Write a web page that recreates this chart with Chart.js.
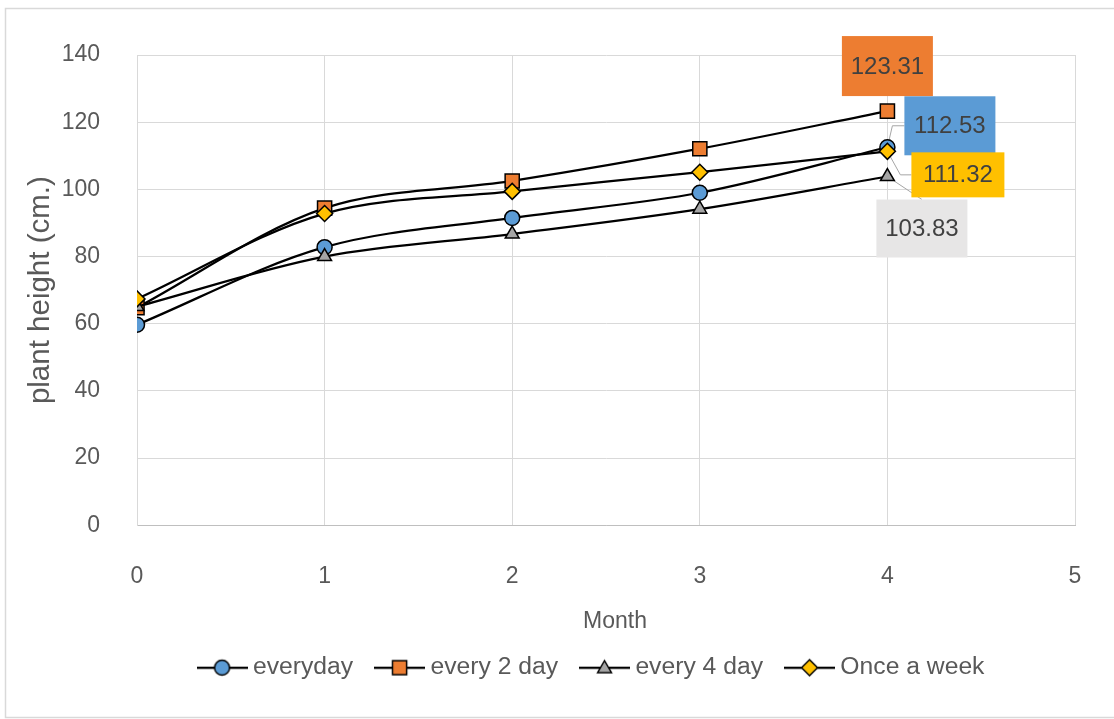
<!DOCTYPE html>
<html>
<head>
<meta charset="utf-8">
<script src="https://cdn.jsdelivr.net/npm/chart.js@4/dist/chart.umd.min.js"></script>
<style>
  html, body { margin: 0; padding: 0; background: #ffffff; }
  #wrap { width: 1114px; height: 719px; }
</style>
</head>
<body>
<div id="wrap"><canvas id="growth" width="1114" height="719"></canvas></div>
<script>
// Plant height (cm.) measured each month for four watering schedules
const months = [0, 1, 2, 3, 4];
const seriesNames = ['everyday', 'every 2 day', 'every 4 day', 'Once a week'];
const everyday   = [59.7, 82.8, 91.5, 99.0, 112.53];
const every2Day  = [64.8, 94.4, 102.5, 112.1, 123.31];
const every4Day  = [65.1, 80.0, 86.7, 94.1, 103.83];
const onceAWeek  = [67.4, 92.8, 99.4, 105.1, 111.32];
const xTickLabels = ['0', '1', '2', '3', '4', '5'];
const yTickLabels = ['0', '20', '40', '60', '80', '100', '120', '140'];

const FONT = '"Liberation Sans", Arial, sans-serif';
const TEXT = '#595959';
const GRID = '#D9D9D9';

const seriesValues = [everyday, every2Day, every4Day, onceAWeek];
const markerStyles = [
  { shape: 'circle',   radius: 7.5, fill: '#5B9BD5' },
  { shape: 'rect',     radius: 10,  fill: '#ED7D31' },
  { shape: 'triangle', radius: 8,   fill: '#A5A5A5' },
  { shape: 'rectRot',  radius: 8,   fill: '#FFC000' }
];

// Value callouts for the last month, placed relative to their point
const callouts = [
  { fill: '#5B9BD5', w: 91, h: 59, dx: 17,    dy: -51, leader: 'side', bend: 5 },
  { fill: '#ED7D31', w: 91, h: 60, dx: -45.5, dy: -75, leader: 'none' },
  { fill: '#E7E6E6', w: 91, h: 58, dx: -11,   dy: 23,  leader: 'top' },
  { fill: '#FFC000', w: 93, h: 45, dx: 24,    dy: 1,   leader: 'side', bend: 13 }
];

function traceMarker(g, shape, r, x, y) {
  g.beginPath();
  if (shape === 'circle') {
    g.arc(x, y, r, 0, Math.PI * 2);
  } else if (shape === 'rect') {
    const s = r * Math.SQRT1_2;
    g.rect(x - s, y - s, 2 * s, 2 * s);
  } else if (shape === 'triangle') {
    g.moveTo(x, y - r);
    g.lineTo(x + r * 0.866, y + r / 2);
    g.lineTo(x - r * 0.866, y + r / 2);
  } else {
    g.moveTo(x, y - r);
    g.lineTo(x + r, y);
    g.lineTo(x, y + r);
    g.lineTo(x - r, y);
  }
  g.closePath();
}

function legendIcon(m) {
  const c = document.createElement('canvas');
  c.width = 51; c.height = 20;
  const g = c.getContext('2d');
  g.strokeStyle = '#000'; g.lineWidth = 2.25;
  g.beginPath(); g.moveTo(0, 10); g.lineTo(51, 10); g.stroke();
  g.lineWidth = 1.5; g.fillStyle = m.fill;
  traceMarker(g, m.shape, m.radius, 25.5, m.shape === 'triangle' ? 11 : 10);
  g.fill(); g.stroke();
  return c;
}
const legendIcons = markerStyles.map(legendIcon);

const chartFrame = {
  id: 'chartFrame',
  beforeDraw(chart) {
    const ctx = chart.ctx;
    ctx.save();
    ctx.fillStyle = '#ffffff';
    ctx.fillRect(0, 0, chart.width, chart.height);
    ctx.strokeStyle = GRID; ctx.lineWidth = 1.5;
    ctx.beginPath();
    ctx.moveTo(chart.width + 2, 8.5);
    ctx.lineTo(5.5, 8.5);
    ctx.lineTo(5.5, 717.5);
    ctx.lineTo(chart.width + 2, 717.5);
    ctx.stroke();
    ctx.restore();

    // the "Month" title sits slightly right of the plot centre
    const xs = chart.scales.x;
    if (xs && !xs._titleShifted) {
      const base = xs.drawTitle;
      xs.drawTitle = function () {
        this.ctx.save();
        this.ctx.translate(9, 0);
        base.call(this);
        this.ctx.restore();
      };
      xs._titleShifted = true;
    }
  }
};

// Centre the legend row (icons included) on x = 590
const legendShift = {
  id: 'legendShift',
  afterLayout(chart) {
    const lg = chart.legend;
    const d = 594 - (lg.left + lg.right) / 2;
    lg.left += d;
    lg.right += d;
  }
};

function calloutBox(chart, i) {
  const pt = chart.getDatasetMeta(i).data[months.length - 1];
  const c = callouts[i];
  return { px: pt.x, py: pt.y, left: pt.x + c.dx, top: pt.y + c.dy, c };
}

const valueCallouts = {
  id: 'valueCallouts',
  beforeDatasetsDraw(chart) {
    const ctx = chart.ctx;
    ctx.save();
    ctx.strokeStyle = '#A6A6A6'; ctx.lineWidth = 1;
    seriesValues.forEach((_, i) => {
      const b = calloutBox(chart, i);
      const cy = b.top + b.c.h / 2;
      ctx.beginPath();
      if (b.c.leader === 'side') {
        ctx.moveTo(b.px, b.py);
        ctx.lineTo(b.px + b.c.bend, cy);
        ctx.lineTo(b.left, cy);
      } else if (b.c.leader === 'top') {
        ctx.moveTo(b.px, b.py);
        ctx.lineTo(b.left + b.c.w / 2, b.top);
      }
      ctx.stroke();
    });
    ctx.restore();
  },
  afterDatasetsDraw(chart) {
    const ctx = chart.ctx;
    ctx.save();
    ctx.font = '24px ' + FONT;
    ctx.textAlign = 'center';
    ctx.textBaseline = 'middle';
    seriesValues.forEach((vals, i) => {
      const b = calloutBox(chart, i);
      ctx.fillStyle = b.c.fill;
      ctx.fillRect(b.left, b.top, b.c.w, b.c.h);
      ctx.fillStyle = '#404040';
      ctx.fillText(vals[vals.length - 1].toFixed(2), b.left + b.c.w / 2, b.top + b.c.h / 2 + 1);
    });
    ctx.restore();
  }
};

const datasets = seriesNames.map((name, i) => ({
  label: name,
  data: months.map((m, k) => ({ x: m, y: seriesValues[i][k] })),
  borderColor: '#000000',
  borderWidth: 2.25,
  tension: 0.33,
  fill: false,
  pointStyle: markerStyles[i].shape,
  pointRadius: markerStyles[i].radius,
  pointHoverRadius: markerStyles[i].radius,
  pointBackgroundColor: markerStyles[i].fill,
  pointBorderColor: '#000000',
  pointBorderWidth: 1.5,
  order: seriesNames.length - i
}));

new Chart(document.getElementById('growth'), {
  type: 'line',
  data: { datasets },
  plugins: [chartFrame, legendShift, valueCallouts],
  options: {
    responsive: false,
    animation: false,
    devicePixelRatio: 1,
    layout: { padding: { left: 0, top: 55, right: 39, bottom: 29 } },
    plugins: {
      tooltip: { enabled: false },
      legend: {
        position: 'bottom',
        labels: {
          usePointStyle: true,
          pointStyleWidth: 37,
          padding: 28,
          color: TEXT,
          font: { family: FONT, size: 24.7 },
          sort: (a, b) => a.datasetIndex - b.datasetIndex,
          generateLabels(chart) {
            const items = Chart.defaults.plugins.legend.labels.generateLabels(chart);
            items.forEach(it => { it.pointStyle = legendIcons[it.datasetIndex]; });
            return items;
          }
        }
      }
    },
    scales: {
      x: {
        type: 'linear',
        min: 0,
        max: xTickLabels.length - 1,
        afterFit(scale) {
          scale.height = 102;
          scale.paddingLeft = 0;
          scale.paddingRight = 0;
        },
        grid: { color: GRID, drawTicks: false },
        border: { color: '#BFBFBF', width: 1 },
        ticks: {
          stepSize: 1,
          padding: 38,
          color: TEXT,
          font: { family: FONT, size: 23 },
          callback: (v) => xTickLabels[v]
        },
        title: {
          display: true,
          text: 'Month',
          color: TEXT,
          font: { family: FONT, size: 23 },
          padding: { top: 0, bottom: -8 }
        }
      },
      y: {
        min: 0,
        max: 140,
        afterFit(scale) { scale.width = 137; },
        grid: { color: GRID, drawTicks: false },
        border: { color: GRID, width: 1 },
        ticks: {
          stepSize: 20,
          padding: 37,
          color: TEXT,
          font: { family: FONT, size: 23 },
          callback: (v) => yTickLabels[v / 20]
        },
        title: {
          display: true,
          text: 'plant height (cm.)',
          color: TEXT,
          font: { family: FONT, size: 29.5 },
          padding: { top: 23, bottom: 0 }
        }
      }
    }
  }
});
</script>
</body>
</html>
